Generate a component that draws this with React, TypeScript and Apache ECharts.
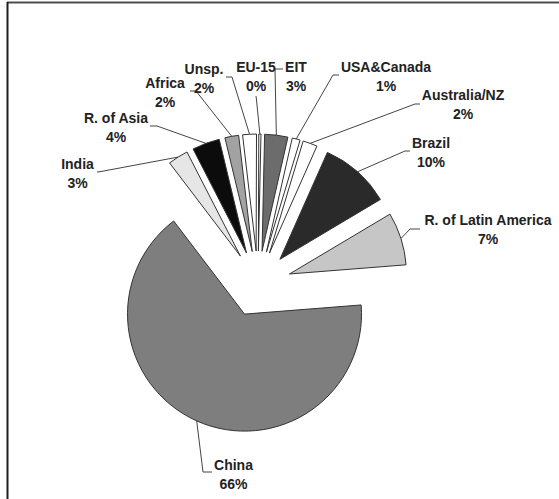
import React, { useEffect, useRef } from "react";
import * as echarts from "echarts";

// ---- data ----
const categories = [
  "China",
  "India",
  "R. of Asia",
  "Africa",
  "Unsp.",
  "EU-15",
  "EIT",
  "USA&Canada",
  "Australia/NZ",
  "Brazil",
  "R. of Latin America",
];
const shares = [65.9, 2.8, 3.8, 1.9, 1.9, 0.3, 3.2, 1.1, 2.0, 9.8, 7.3];

// ---- styles / layout ----
const sliceColors = [
  "#7e7e7e",
  "#e6e6e6",
  "#0c0c0c",
  "#a2a2a2",
  "#ffffff",
  "#ffffff",
  "#6c6c6c",
  "#ffffff",
  "#ffffff",
  "#2a2a2a",
  "#c6c6c6",
];
const CENTER: [number, number] = [258, 284];
const RADIUS = 117;
const EXPLODE = 33;
const START_ANGLE = 4.5;

// label block centres and leader line [labelEnd, elbow]
const labelCenters: [number, number][] = [
  [233.5, 474],
  [77.5, 173.5],
  [116, 127.5],
  [165, 92],
  [204, 78],
  [256, 76.5],
  [296, 76.5],
  [386, 76.5],
  [463, 104.5],
  [431, 152.5],
  [488, 229.5],
];
const leaderEnds: [number, number][][] = [
  [[212, 472], [203, 472]],
  [[97, 172], [101, 171.5]],
  [[150, 126], [157, 126]],
  [[190, 91], [196, 91]],
  [[226, 77], [232, 77]],
  [[256, 96], [256.5, 100]],
  [[283, 69], [275, 69]],
  [[339, 75], [333, 75]],
  [[420, 104], [415, 104]],
  [[410, 151], [405, 151]],
  [[420, 229], [410, 229]],
];

function sliceOuterPoints(): [number, number][] {
  const total = shares.reduce((a, b) => a + b, 0);
  let a = START_ANGLE;
  return shares.map((v) => {
    const span = (v / total) * 360;
    const mid = ((a - span / 2) * Math.PI) / 180;
    a -= span;
    const r = RADIUS + EXPLODE;
    return [CENTER[0] + r * Math.cos(mid), CENTER[1] - r * Math.sin(mid)] as [number, number];
  });
}

export default function App() {
  const ref = useRef<HTMLDivElement>(null);
  useEffect(() => {
    if (!ref.current) return;
    const chart = echarts.init(ref.current, undefined, { renderer: "svg" });
    const pts = sliceOuterPoints();
    const font = {
      fontFamily: "'Liberation Sans', Arial, sans-serif",
      fontSize: 14,
      fontWeight: "bold" as const,
      color: "#222",
      lineHeight: 19,
    };
    chart.setOption({
      animation: false,
      backgroundColor: "#ffffff",
      graphic: [
        {
          type: "line",
          silent: true,
          shape: { x1: 7, y1: 2.5, x2: 559, y2: 2.5 },
          style: { stroke: "#4d4d4d", lineWidth: 2 },
        },
        {
          type: "line",
          silent: true,
          shape: { x1: 7.5, y1: 2, x2: 7.5, y2: 499 },
          style: { stroke: "#1e1e1e", lineWidth: 2 },
        },
      ],
      series: [
        {
          type: "pie",
          center: CENTER,
          radius: RADIUS,
          startAngle: START_ANGLE,
          clockwise: true,
          selectedMode: "multiple",
          selectedOffset: EXPLODE,
          avoidLabelOverlap: false,
          silent: true,
          label: { show: false },
          labelLine: { show: false },
          emphasis: { disabled: true },
          data: categories.map((name, i) => ({
            name,
            value: shares[i],
            selected: true,
            itemStyle: { color: sliceColors[i], borderColor: "#333", borderWidth: 1 },
          })),
        },
        {
          type: "pie",
          center: CENTER,
          radius: RADIUS,
          startAngle: START_ANGLE,
          clockwise: true,
          avoidLabelOverlap: false,
          silent: true,
          emphasis: { disabled: true },
          itemStyle: { color: "rgba(0,0,0,0)", borderWidth: 0 },
          label: {
            show: true,
            position: "outside",
            align: "center",
            formatter: (p: any) => `${p.name}\n${Math.round(p.value)}%`,
            ...font,
          },
          labelLine: {
            show: true,
            length: 10,
            length2: 10,
            lineStyle: { color: "#444", width: 1 },
          },
          labelLayout: (params: any) => {
            const i = params.dataIndex;
            const [cx, cy] = labelCenters[i];
            const [end, elbow] = leaderEnds[i];
            return {
              x: cx,
              y: cy,
              align: "center",
              verticalAlign: "middle",
              labelLinePoints: [pts[i], elbow, end],
            };
          },
          data: categories.map((name, i) => ({ name, value: shares[i] })),
        },
      ],
    });
    return () => chart.dispose();
  }, []);
  return (
    <div
      ref={ref}
      style={{ position: "absolute", left: 0, top: 0, width: 559, height: 499 }}
    />
  );
}
